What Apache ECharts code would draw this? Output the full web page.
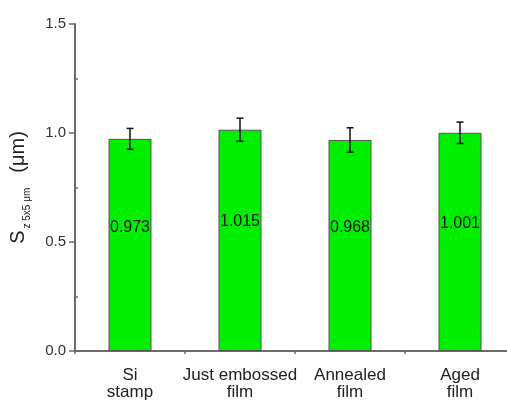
<!DOCTYPE html>
<html>
<head>
<meta charset="utf-8">
<script src="https://cdn.jsdelivr.net/npm/echarts@6/dist/echarts.min.js"></script>
<style>
  html, body { margin: 0; padding: 0; background: #fff; }
  #chart { width: 507px; height: 401px; }
</style>
</head>
<body>
<div id="chart"></div>
<script>
// Surface roughness Sz over a 5x5 µm area, per sample
const categories = ['Si\nstamp', 'Just embossed\nfilm', 'Annealed\nfilm', 'Aged\nfilm'];
const szValues = [0.973, 1.015, 0.968, 1.001];
const szErrors = [0.048, 0.053, 0.056, 0.049];
const yTicks = [0, 0.5, 1.0, 1.5];

const FONT = 'Liberation Sans, Arial, sans-serif';
const AXIS_COLOR = '#6b6b6b';

const chart = echarts.init(document.getElementById('chart'), null, { renderer: 'canvas' });

const errorData = szValues.map((v, i) => [i, v - szErrors[i], v + szErrors[i]]);

chart.setOption({
  animation: false,
  // the plot frame runs slightly past the right edge of the canvas
  grid: { left: 75, top: 24, width: 440, bottom: 50, show: false, outerBoundsMode: 'none', containLabel: false },
  xAxis: [{
    type: 'category',
    data: categories,
    boundaryGap: true,
    axisLine: { show: true, lineStyle: { color: AXIS_COLOR, width: 2 } },
    axisTick: { show: true, interval: 0, length: 3, lineStyle: { color: AXIS_COLOR, width: 1.5 } },
    axisLabel: { interval: 0, color: '#222', fontFamily: FONT, fontSize: 17, lineHeight: 17, margin: 16 }
  }, {
    type: 'category',
    data: categories,
    position: 'top',
    axisLine: { show: true, lineStyle: { color: AXIS_COLOR, width: 2 } },
    axisTick: { show: false },
    axisLabel: { show: false }
  }],
  yAxis: [{
    type: 'value',
    min: yTicks[0],
    max: yTicks[yTicks.length - 1],
    interval: 0.5,
    name: '{s|S}{sub|z 5x5 μm}{s|  (μm)}',
    nameLocation: 'middle',
    nameGap: 43,
    nameTextStyle: {
      rich: {
        s: { fontFamily: FONT, fontSize: 20, color: '#222', verticalAlign: 'bottom', padding: [0, 0, 4, 0] },
        sub: { fontFamily: FONT, fontSize: 10, color: '#222', verticalAlign: 'bottom', padding: [0, 4, 0, 2] }
      }
    },
    axisLine: { show: true, lineStyle: { color: AXIS_COLOR, width: 2 } },
    axisTick: { show: true, length: 6, lineStyle: { color: AXIS_COLOR, width: 1.5 } },
    axisLabel: {
      color: '#333', fontFamily: FONT, fontSize: 15, margin: 9,
      formatter: v => v.toFixed(1)
    },
    splitLine: { show: false }
  }, {
    // minor ticks drawn inward on the left spine
    type: 'value',
    position: 'left',
    min: yTicks[0],
    max: yTicks[yTicks.length - 1],
    interval: 0.5,
    axisLine: { show: false },
    axisTick: { show: false, inside: true },
    minorTick: { show: true, splitNumber: 2, length: 3, lineStyle: { color: AXIS_COLOR, width: 1.5 } },
    axisLabel: { show: false },
    splitLine: { show: false }
  }],
  series: [{
    type: 'bar',
    data: szValues,
    barWidth: 43,
    itemStyle: { color: '#00ee00', borderColor: '#555', borderWidth: 1 },
    label: {
      show: true,
      position: ['50%', '41.6%'],
      align: 'center',
      verticalAlign: 'middle',
      color: '#111',
      fontFamily: FONT,
      fontSize: 16,
      formatter: p => p.value.toFixed(3)
    },
    z: 2
  }, {
    type: 'custom',
    data: errorData,
    z: 5,
    renderItem: function (params, api) {
      const x = api.value(0);
      const lo = api.coord([x, api.value(1)]);
      const hi = api.coord([x, api.value(2)]);
      const cap = 3.5;
      const style = { stroke: '#111', lineWidth: 1.5 };
      return {
        type: 'group',
        children: [
          { type: 'line', shape: { x1: hi[0], y1: hi[1], x2: lo[0], y2: lo[1] }, style },
          { type: 'line', shape: { x1: hi[0] - cap, y1: hi[1], x2: hi[0] + cap, y2: hi[1] }, style },
          { type: 'line', shape: { x1: lo[0] - cap, y1: lo[1], x2: lo[0] + cap, y2: lo[1] }, style }
        ]
      };
    }
  }]
});
</script>
</body>
</html>
